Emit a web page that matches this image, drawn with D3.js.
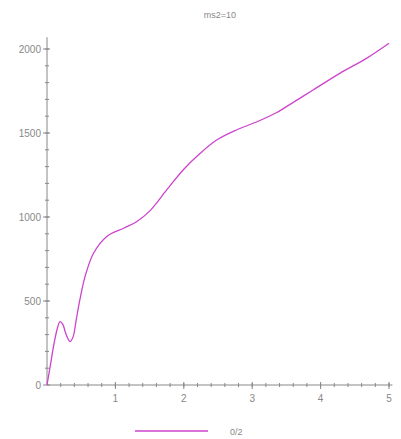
<!DOCTYPE html>
<html><head><meta charset="utf-8">
<script src="https://cdn.jsdelivr.net/npm/d3@7/dist/d3.min.js"></script>
<style>body{margin:0;background:#fff}</style>
</head><body>
<svg id="c" width="401" height="439"></svg>
<script>
const title = "ms2=10";
const legendLabel = "0/2";
const xVals = [0, 0.05, 0.1, 0.15, 0.19, 0.23, 0.28, 0.336, 0.38, 0.43, 0.48, 0.556, 0.68, 0.87, 1.12, 1.31, 1.5, 1.75, 1.99, 2.24, 2.48, 2.77, 3.07, 3.36, 3.5, 3.89, 4.28, 4.67, 5.0];
const yVals = [0, 120, 240, 335, 377, 362, 300, 258, 285, 395, 506, 645, 784, 883, 933, 972, 1035, 1161, 1280, 1379, 1458, 1518, 1567, 1622, 1657, 1756, 1855, 1944, 2034];
const xTicks = [1, 2, 3, 4, 5];
const yTicks = [0, 500, 1000, 1500, 2000];

const svg = d3.select("#c");
const x = d3.scaleLinear().domain([0, 5]).range([47, 389]);
const y = d3.scaleLinear().domain([0, 2000]).range([385, 49]);
const axisColor = "#888";
const textColor = "#888";
const font = "Liberation Sans, Arial, sans-serif";

svg.append("line").attr("x1", x(0)).attr("x2", x(5.05)).attr("y1", y(0)).attr("y2", y(0)).attr("stroke", axisColor);
svg.append("line").attr("x1", x(0)).attr("x2", x(0)).attr("y1", y(0)).attr("y2", y(2070)).attr("stroke", axisColor);

const xMinor = d3.range(0.2, 5.01, 0.2);
svg.selectAll(".xm").data(xMinor).join("line")
  .attr("x1", d => x(d)).attr("x2", d => x(d)).attr("y1", y(0) - 2).attr("y2", y(0) + 2).attr("stroke", axisColor);
const yMinor = d3.range(100, 2001, 100);
svg.selectAll(".ym").data(yMinor).join("line")
  .attr("x1", x(0) - 2).attr("x2", x(0) + 2).attr("y1", d => y(d)).attr("y2", d => y(d)).attr("stroke", axisColor);
svg.selectAll(".xM").data(xTicks).join("line")
  .attr("x1", d => x(d)).attr("x2", d => x(d)).attr("y1", y(0) - 3).attr("y2", y(0) + 4).attr("stroke", axisColor);
svg.selectAll(".yM").data(yTicks).join("line")
  .attr("x1", x(0) - 4).attr("x2", x(0) + 3).attr("y1", d => y(d)).attr("y2", d => y(d)).attr("stroke", axisColor);

svg.selectAll(".xl").data(xTicks).join("text")
  .attr("x", d => x(d)).attr("y", y(0) + 17).attr("text-anchor", "middle")
  .attr("font-family", font).attr("font-size", 10).attr("fill", textColor).text(d => d);
svg.selectAll(".yl").data(yTicks).join("text")
  .attr("x", x(0) - 6).attr("y", d => y(d) + 4).attr("text-anchor", "end")
  .attr("font-family", font).attr("font-size", 10).attr("fill", textColor).text(d => d);

svg.append("text").attr("x", 220).attr("y", 18).attr("text-anchor", "middle")
  .attr("font-family", font).attr("font-size", 9).attr("fill", textColor).text(title);

const pts = xVals.map((v, i) => [v, yVals[i]]);
const line = d3.line().x(d => x(d[0])).y(d => y(d[1])).curve(d3.curveCatmullRom.alpha(0.5));
svg.append("path").datum(pts).attr("d", line).attr("fill", "none")
  .attr("stroke", "#cc44cc").attr("stroke-width", 1.3);

svg.append("line").attr("x1", 135).attr("x2", 208).attr("y1", 431).attr("y2", 431)
  .attr("stroke", "#cc44cc").attr("stroke-width", 1.3);
svg.append("text").attr("x", 230).attr("y", 435)
  .attr("font-family", font).attr("font-size", 9).attr("fill", textColor).text(legendLabel);
</script>
</body></html>
